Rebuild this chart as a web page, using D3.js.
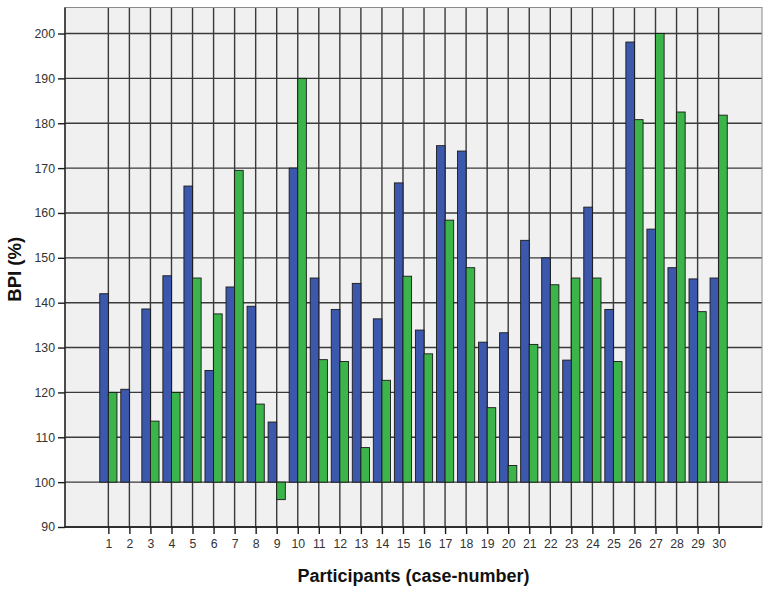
<!DOCTYPE html>
<html>
<head>
<meta charset="utf-8">
<script src="https://cdn.jsdelivr.net/npm/d3@7"></script>
<style>
  html, body { margin: 0; padding: 0; background: #ffffff; }
  svg { display: block; }
</style>
</head>
<body>
<svg id="chart" width="768" height="590"></svg>
<script>
const categories = d3.range(1, 31).map(String);
const seriesBlue = [142.0, 120.7, 138.6, 146.0, 166.0, 124.9, 143.5, 139.2, 113.4, 170.0,
                    145.5, 138.5, 144.3, 136.4, 166.7, 133.9, 175.0, 173.8, 131.2, 133.3,
                    153.9, 150.0, 127.2, 161.3, 138.5, 198.1, 156.4, 147.8, 145.3, 145.5];
const seriesGreen = [120.0, 100.0, 113.6, 120.0, 145.5, 137.5, 169.5, 117.4, 96.1, 190.0,
                     127.3, 126.9, 107.7, 122.7, 145.9, 128.6, 158.4, 147.8, 116.6, 103.7,
                     130.7, 144.0, 145.5, 145.5, 126.9, 180.8, 200.0, 182.5, 138.0, 181.8];
const yTicks = [90, 100, 110, 120, 130, 140, 150, 160, 170, 180, 190, 200];
const baseValue = 100;
const yLabel = "BPI (%)";
const xLabel = "Participants (case-number)";

const svg = d3.select("#chart");
const plot = { left: 65, right: 762, top: 7.5, bottom: 527 };

const y = d3.scaleLinear().domain([90, 205.8]).range([plot.bottom, plot.top]);
const x = d3.scalePoint().domain(categories).range([plot.left, plot.right]).padding(2.06);
const barW = 8.6;

// background
svg.append("rect")
  .attr("x", plot.left).attr("y", plot.top)
  .attr("width", plot.right - plot.left).attr("height", plot.bottom - plot.top)
  .attr("fill", "#f0f0f0");

// horizontal gridlines
svg.append("g").selectAll("line").data(yTicks).join("line")
  .attr("x1", plot.left).attr("x2", plot.right)
  .attr("y1", d => y(d)).attr("y2", d => y(d))
  .attr("stroke", "#3a3a3a").attr("stroke-width", 1.4);

// vertical gridlines
svg.append("g").selectAll("line").data(categories).join("line")
  .attr("x1", d => x(d)).attr("x2", d => x(d))
  .attr("y1", plot.top).attr("y2", plot.bottom)
  .attr("stroke", "#3a3a3a").attr("stroke-width", 1.4);

// bars
const data = categories.map((c, i) => ({ c, blue: seriesBlue[i], green: seriesGreen[i] }));
const barsG = svg.append("g");
barsG.selectAll("rect.blue").data(data).join("rect")
  .attr("class", "blue")
  .attr("x", d => x(d.c) - barW)
  .attr("y", d => y(Math.max(d.blue, baseValue)))
  .attr("width", barW)
  .attr("height", d => Math.abs(y(d.blue) - y(baseValue)))
  .attr("fill", "#3c58ad").attr("stroke", "#1a1a1a").attr("stroke-width", 0.9);
barsG.selectAll("rect.green").data(data).join("rect")
  .attr("class", "green")
  .attr("x", d => x(d.c))
  .attr("y", d => y(Math.max(d.green, baseValue)))
  .attr("width", barW)
  .attr("height", d => Math.abs(y(d.green) - y(baseValue)))
  .attr("fill", "#3bb54a").attr("stroke", "#1a1a1a").attr("stroke-width", 0.9);

// frame
svg.append("rect")
  .attr("x", plot.left).attr("y", plot.top)
  .attr("width", plot.right - plot.left).attr("height", plot.bottom - plot.top)
  .attr("fill", "none").attr("stroke", "#8a8a8a").attr("stroke-width", 1);

// axes
const yAxis = d3.axisLeft(y).tickValues(yTicks).tickSize(7).tickPadding(3).tickFormat(d3.format("d"));
const gy = svg.append("g").attr("transform", `translate(${plot.left},0)`).call(yAxis);
const xAxis = d3.axisBottom(x).tickSize(7).tickPadding(5);
const gx = svg.append("g").attr("transform", `translate(0,${plot.bottom})`).call(xAxis);

[gy, gx].forEach(g => {
  g.select(".domain").attr("stroke", "#1a1a1a").attr("stroke-width", 1.4);
  g.selectAll(".tick line").attr("stroke", "#1a1a1a").attr("stroke-width", 1.4);
  g.selectAll(".tick text")
    .attr("font-family", "Liberation Sans, Arial, sans-serif")
    .attr("font-size", 12.3).attr("fill", "#333");
});
gy.select(".domain").attr("d", `M0,${plot.bottom}V${plot.top}`);
gx.select(".domain").attr("d", `M${plot.left},0H${plot.right}`);

// axis titles
svg.append("text")
  .attr("transform", `translate(21,${(plot.top + plot.bottom) / 2 + 2}) rotate(-90)`)
  .attr("text-anchor", "middle")
  .attr("font-family", "Liberation Sans, Arial, sans-serif")
  .attr("font-weight", "bold").attr("font-size", 18.5).attr("fill", "#111")
  .text(yLabel);
svg.append("text")
  .attr("x", (plot.left + plot.right) / 2).attr("y", 582)
  .attr("text-anchor", "middle")
  .attr("font-family", "Liberation Sans, Arial, sans-serif")
  .attr("font-weight", "bold").attr("font-size", 18).attr("fill", "#111")
  .text(xLabel);
</script>
</body>
</html>
